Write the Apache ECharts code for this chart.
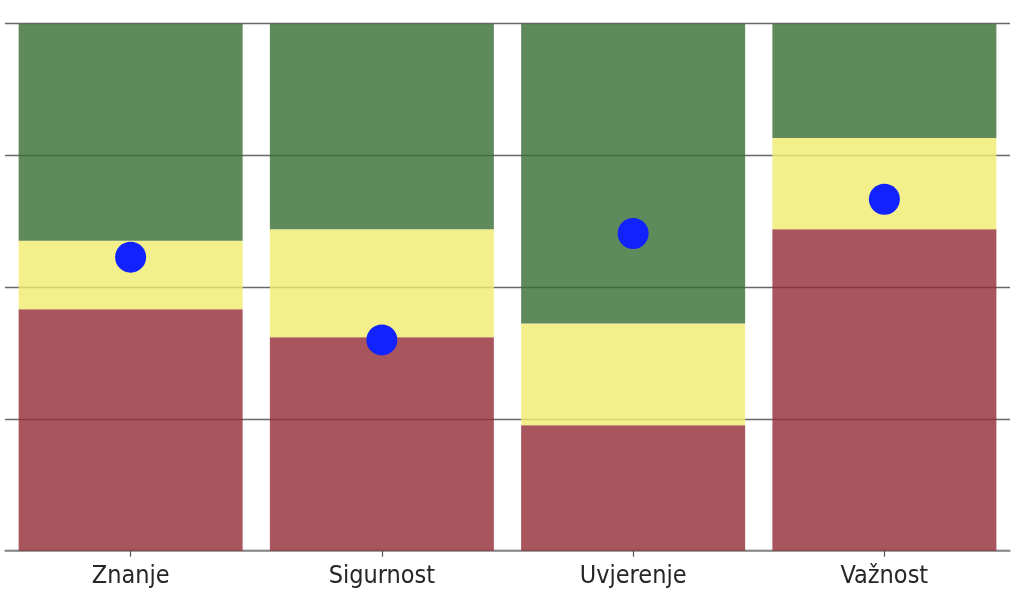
<!DOCTYPE html>
<html>
<head>
<meta charset="utf-8">
<script src="https://cdn.jsdelivr.net/npm/echarts@6/dist/echarts.min.js"></script>
<style>html,body{margin:0;padding:0;background:#fff}#c{width:1017px;height:599px}</style>
</head>
<body>
<div id="c"></div>
<script>
const categories = ['Znanje', 'Sigurnost', 'Uvjerenje', 'Važnost'];
const redValues = [45.8, 40.5, 23.8, 61.0];
const yellowValues = [13.0, 20.5, 19.3, 17.3];
const greenValues = [41.2, 39.0, 56.9, 21.7];
const dotValues = [55.7, 40.0, 60.2, 66.7];
const yTicks = [0, 25, 50, 75, 100];

const chart = echarts.init(document.getElementById('c'));
chart.setOption({
  animation: false,
  backgroundColor: '#ffffff',
  grid: { left: 5, right: 7, top: 23.7, bottom: 48.3, containLabel: false },
  xAxis: {
    type: 'category',
    data: categories,
    axisLine: { show: true, lineStyle: { color: '#8a8a8a', width: 1.5 } },
    axisTick: { show: true, alignWithLabel: true, length: 6, lineStyle: { color: '#555', width: 1.2 } },
    axisLabel: { fontFamily: 'DejaVu Sans Condensed, DejaVu Sans', fontSize: 25, color: '#262626', margin: 13 },
    splitLine: { show: false }
  },
  yAxis: {
    type: 'value',
    min: yTicks[0],
    max: yTicks[yTicks.length - 1],
    interval: 25,
    axisLine: { show: false },
    axisTick: { show: false },
    axisLabel: { show: false },
    splitLine: { show: true, lineStyle: { color: '#686868', width: 1.3 } }
  },
  series: [
    { type: 'bar', stack: 's', data: redValues, barWidth: 224, itemStyle: { color: '#932a34', opacity: 0.8 } },
    { type: 'bar', stack: 's', data: yellowValues, barWidth: 224, itemStyle: { color: '#f0ec6e', opacity: 0.8 } },
    { type: 'bar', stack: 's', data: greenValues, barWidth: 224, itemStyle: { color: '#376d33', opacity: 0.8 } },
    { type: 'scatter', data: dotValues, symbol: 'circle', symbolSize: 31, itemStyle: { color: '#1122fc', opacity: 1 }, z: 5 }
  ]
});
</script>
</body>
</html>
